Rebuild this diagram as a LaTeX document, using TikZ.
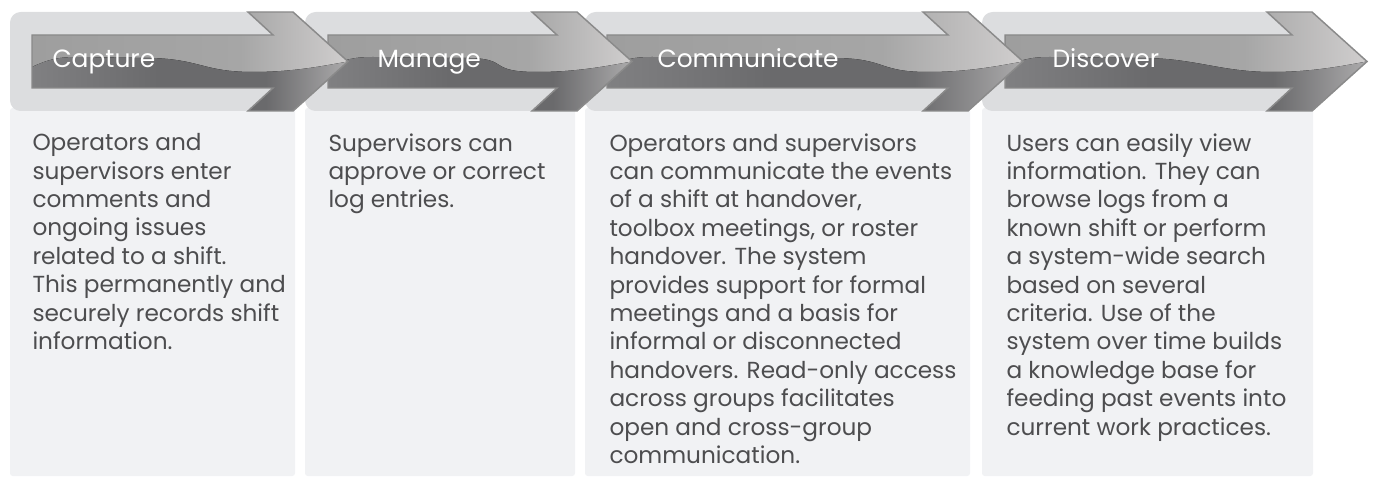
\documentclass[tikz,border=0pt]{standalone}
\usepackage{fontspec}
\setmainfont{Poppins}[Ligatures=NoCommon]

\definecolor{hdrgray}{RGB}{220,221,223}
\definecolor{bodygray}{RGB}{241,242,244}
\definecolor{txtgray}{RGB}{77,77,79}
\definecolor{arrline}{RGB}{138,138,138}
\definecolor{arrtopL}{RGB}{158,158,158}
\definecolor{arrtopM}{RGB}{166,166,166}
\definecolor{arrtopR}{RGB}{208,206,206}
\definecolor{arrlowL}{RGB}{128,128,130}
\definecolor{arrlowM}{RGB}{106,106,108}
\definecolor{arrlowR}{RGB}{172,171,172}

\pgfdeclarehorizontalshading{arrowtop}{100bp}{color(0bp)=(arrtopL); color(25bp)=(arrtopL); color(58bp)=(arrtopM); color(75bp)=(arrtopR); color(100bp)=(arrtopR)}
\pgfdeclarehorizontalshading{arrowlow}{100bp}{color(0bp)=(arrlowL); color(25bp)=(arrlowL); color(45bp)=(arrlowM); color(62bp)=(arrlowM); color(75bp)=(arrlowR); color(100bp)=(arrlowR)}

\tikzset{every picture/.style={line width=0.75pt}}
\tikzset{
  header/.style={fill=hdrgray, rounded corners=8},
  panel/.style={fill=bodygray, rounded corners=2},
  arrowbody/.style={shade, shading=arrowtop, draw=arrline, line width=1.1},
  arrowwave/.style={shade, shading=arrowlow},
  steplabel/.style={anchor=base west, inner sep=0, text=white, font=\fontsize{18.7pt}{22pt}\selectfont},
  steptext/.style={anchor=north west, inner sep=0, align=left, text=txtgray, font=\fontsize{17.4pt}{21.3pt}\selectfont},
}

\begin{document}
\begin{tikzpicture}[x=0.75pt,y=0.75pt,yscale=-1,xscale=1]
\useasboundingbox (0,0) rectangle (1376,477);

%Shape: Panels
\fill [panel] (10,108) rectangle (295,476) ;
\fill [panel] (305,108) rectangle (575,476) ;
\fill [panel] (585,108) rectangle (970,476) ;
\fill [panel] (982,108) rectangle (1313,476) ;
%Shape: Headers
\fill [header] (10,12) rectangle (295,111) ;
\fill [header] (305,12) rectangle (575,111) ;
\fill [header] (585,12) rectangle (970,111) ;
\fill [header] (982,12) rectangle (1313,111) ;

%Shape: Arrow [Discover]
\draw [arrowbody, path picture={
  \fill [arrowwave] (1005,67) .. controls (1020,60) and (1030,57) .. (1050,57) -- (1147,58) .. controls (1197,59) and (1222,72) .. (1272,72) .. controls (1312,72) and (1342,66) .. (1367,61.5) -- (1367,115) -- (1005,115) -- cycle ;}]
  (1005,35) -- (1292,35) -- (1267,12) -- (1312,12) -- (1367,61.5) -- (1312,111) -- (1267,111) -- (1292,88) -- (1005,88) -- cycle ;

%Shape: Arrow [Communicate]
\draw [arrowbody, path picture={
  \fill [arrowwave] (607,67) .. controls (622,60) and (632,57) .. (652,57) -- (837,58) .. controls (887,59) and (878,72) .. (928,72) .. controls (968,72) and (998,66) .. (1023,61.5) -- (1023,115) -- (607,115) -- cycle ;}]
  (607,35) -- (948,35) -- (923,12) -- (968,12) -- (1023,61.5) -- (968,111) -- (923,111) -- (948,88) -- (607,88) -- cycle ;

%Shape: Arrow [Manage]
\draw [arrowbody, path picture={
  \fill [arrowwave] (328,67) .. controls (343,60) and (353,57) .. (373,57) -- (470,58) .. controls (510,59) and (487,72) .. (537,72) .. controls (577,72) and (607,66) .. (632,61.5) -- (632,115) -- (328,115) -- cycle ;}]
  (328,35) -- (557,35) -- (532,12) -- (577,12) -- (632,61.5) -- (577,111) -- (532,111) -- (557,88) -- (328,88) -- cycle ;

%Shape: Arrow [Capture]
\draw [arrowbody, path picture={
  \fill [arrowwave] (32,67) .. controls (47,60) and (57,57) .. (77,57) -- (150,58) .. controls (200,59) and (203,72) .. (253,72) .. controls (293,72) and (323,66) .. (348,61.5) -- (348,115) -- (32,115) -- cycle ;}]
  (32,35) -- (273,35) -- (248,12) -- (293,12) -- (348,61.5) -- (293,111) -- (248,111) -- (273,88) -- (32,88) -- cycle ;

% Text Node
\draw (52,68) node [steplabel] (capture) {Capture};
% Text Node
\draw (377,68) node [steplabel] (manage) {Manage};
% Text Node
\draw (657,68) node [steplabel] (communicate) {Communicate};
% Text Node
\draw (1052,68) node [steplabel] (discover) {Discover};

% Text Node
\draw (32,133) node [steptext] (capturetext) {Operators and\\supervisors enter\\comments and\\ongoing issues\\related to a shift.\\This permanently and\\securely records shift\\information.};
% Text Node
\draw (328,133) node [steptext] (managetext) {Supervisors can\\approve or correct\\log entries.};
% Text Node
\draw (609,133) node [steptext] (communicatetext) {Operators and supervisors\\can communicate the events\\of a shift at handover,\\toolbox meetings, or roster\\handover. The system\\provides support for formal\\meetings and a basis for\\informal or disconnected\\handovers. Read-only access\\across groups facilitates\\open and cross-group\\communication.};
% Text Node
\draw (1006,133) node [steptext] (discovertext) {Users can easily view\\information. They can\\browse logs from a\\known shift or perform\\a system-wide search\\based on several\\criteria. Use of the\\system over time builds\\a knowledge base for\\feeding past events into\\current work practices.};

\end{tikzpicture}
\end{document}
